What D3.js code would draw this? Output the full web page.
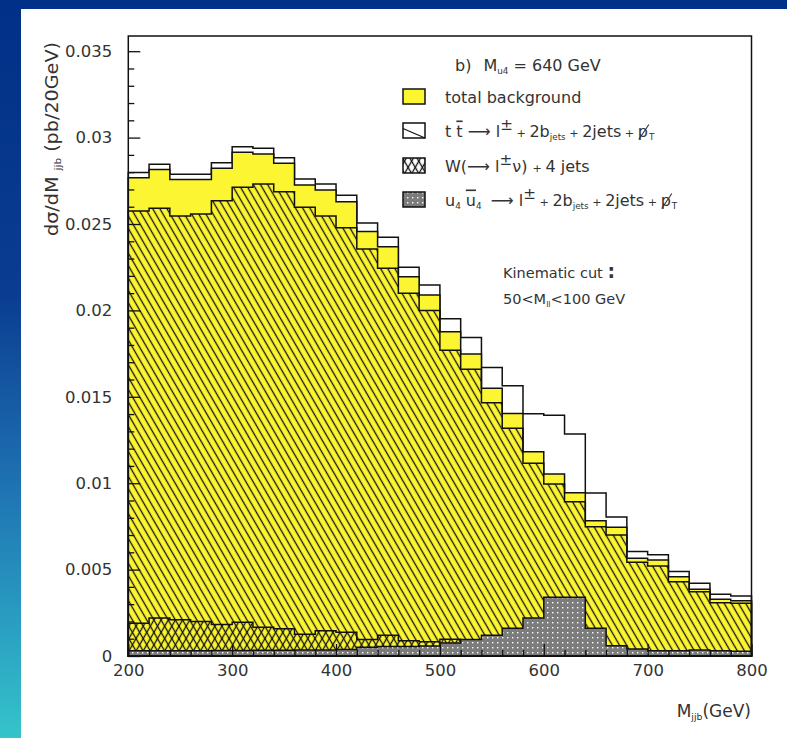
<!DOCTYPE html>
<html>
<head>
<meta charset="utf-8">
<script src="https://cdn.jsdelivr.net/npm/d3@7"></script>
<style>
html, body { margin: 0; padding: 0; background: #fff; }
svg { display: block; }
text { font-family: "DejaVu Sans", sans-serif; fill: #333; }
</style>
</head>
<body>
<div id="chart"></div>
<script>
// bins of 20 GeV, lower edges
const binLow = [200, 220, 240, 260, 280, 300, 320, 340, 360, 380,
                400, 420, 440, 460, 480, 500, 520, 540, 560, 580,
                600, 620, 640, 660, 680, 700, 720, 740, 760, 780];
const binWidth = 20;

// total background (yellow)
const totalBkg = [0.02768, 0.02816, 0.02758, 0.02758, 0.02822, 0.02915, 0.02905, 0.02851, 0.02726, 0.02697,
                  0.02629, 0.02456, 0.02369, 0.02195, 0.02089, 0.01877, 0.01748, 0.01549, 0.01404, 0.01182,
                  0.01053, 0.00945, 0.00783, 0.00745, 0.00565, 0.00556, 0.00459, 0.00386, 0.00328, 0.00320];
// t tbar (hatched)
const ttbar = [0.02575, 0.02591, 0.02546, 0.02558, 0.02635, 0.02712, 0.02731, 0.02687, 0.02597, 0.02546,
               0.02479, 0.02355, 0.02244, 0.02099, 0.02000, 0.01769, 0.01659, 0.01466, 0.01318, 0.01115,
               0.00995, 0.00893, 0.00748, 0.00700, 0.00542, 0.00521, 0.00430, 0.00372, 0.00308, 0.00305];
// W + 4 jets (cross hatched)
const wjets = [0.00190, 0.00220, 0.00210, 0.00200, 0.00183, 0.00196, 0.00167, 0.00157, 0.00126, 0.00146,
               0.00138, 0.00095, 0.00120, 0.00088, 0.00082, 0.00097, 0.00082, 0.00076, 0.00078, 0.00060,
               0.00050, 0.00046, 0.00032, 0.00040, 0.00022, 0.00030, 0.00027, 0.00014, 0.00017, 0.00014];
// u4 u4bar signal, M = 640 GeV (grey)
const signal = [0.00030, 0.00030, 0.00030, 0.00030, 0.00032, 0.00032, 0.00033, 0.00033, 0.00035, 0.00035,
                0.00038, 0.00050, 0.00055, 0.00055, 0.00058, 0.00075, 0.00095, 0.00120, 0.00160, 0.00220,
                0.00340, 0.00340, 0.00160, 0.00060, 0.00040, 0.00030, 0.00030, 0.00035, 0.00030, 0.00027];

const xMajor = [200, 300, 400, 500, 600, 700, 800];
const xMinor = [220, 240, 260, 280, 320, 340, 360, 380, 420, 440, 460, 480,
                520, 540, 560, 580, 620, 640, 660, 680, 720, 740, 760, 780];
const yMajor = [0, 0.005, 0.01, 0.015, 0.02, 0.025, 0.03, 0.035];
const yLabels = ['0', '0.005', '0.01', '0.015', '0.02', '0.025', '0.03', '0.035'];
const yMinor = [0.001, 0.002, 0.003, 0.004, 0.006, 0.007, 0.008, 0.009, 0.011, 0.012, 0.013, 0.014,
                0.016, 0.017, 0.018, 0.019, 0.021, 0.022, 0.023, 0.024, 0.026, 0.027, 0.028, 0.029,
                0.031, 0.032, 0.033, 0.034];

const W = 787, H = 738;
const plot = { left: 128.3, right: 751.5, top: 36, bottom: 656 };

const svg = d3.select('#chart').append('svg')
    .attr('width', W)
    .attr('height', H);

const defs = svg.append('defs');

// slide background
const grad = defs.append('linearGradient')
    .attr('id', 'sideGrad')
    .attr('x1', 0).attr('y1', 0).attr('x2', 0).attr('y2', 1);
[['0', '#003087'], ['0.4', '#0a3d91'], ['0.62', '#1c6aae'], ['0.82', '#2898c0'], ['1', '#35c4ca']]
    .forEach(s => grad.append('stop').attr('offset', s[0]).attr('stop-color', s[1]));

svg.append('rect').attr('width', W).attr('height', H).attr('fill', '#fff');
svg.append('rect').attr('width', W).attr('height', 9).attr('fill', '#003087');
svg.append('rect').attr('width', 21).attr('height', H).attr('fill', 'url(#sideGrad)');

// fill patterns
function hatch(id, angle, gap) {
    const p = defs.append('pattern')
        .attr('id', id)
        .attr('patternUnits', 'userSpaceOnUse')
        .attr('width', gap).attr('height', gap)
        .attr('patternTransform', 'rotate(' + angle + ')');
    p.append('line')
        .attr('x1', gap / 2).attr('y1', 0)
        .attr('x2', gap / 2).attr('y2', gap)
        .attr('stroke', '#111')
        .attr('stroke-width', 1.3);
}
hatch('hatchTT', -30, 6.2);
hatch('hatchW', 30, 6.2);

const dots = defs.append('pattern')
    .attr('id', 'dotsSig')
    .attr('patternUnits', 'userSpaceOnUse')
    .attr('width', 5).attr('height', 5);
dots.append('rect').attr('width', 5).attr('height', 5).attr('fill', '#7c7c7c');
dots.append('rect').attr('x', 2).attr('y', 2).attr('width', 1.4).attr('height', 1.4).attr('fill', '#fff');

// scales
const x = d3.scaleLinear().domain([200, 800]).range([plot.left, plot.right]);
const y = d3.scaleLinear().domain([0, 0.03588]).range([plot.bottom, plot.top]);

function steps(vals) {
    const pts = binLow.map((b, i) => ({ x: b, v: vals[i] }));
    pts.push({ x: binLow[binLow.length - 1] + binWidth, v: vals[vals.length - 1] });
    return pts;
}

const area = d3.area()
    .curve(d3.curveStepAfter)
    .x(d => x(d.x))
    .y0(y(0))
    .y1(d => y(d.v));

const withSignal = totalBkg.map((v, i) => v + signal[i]);

const hists = svg.append('g').attr('class', 'hists');

function drawHist(vals, fill) {
    hists.append('path')
        .datum(steps(vals))
        .attr('d', area)
        .attr('fill', fill)
        .attr('stroke', '#111')
        .attr('stroke-width', 1.5)
        .attr('stroke-linejoin', 'miter');
}

drawHist(withSignal, '#fff');
drawHist(totalBkg, '#fcf532');
drawHist(ttbar, 'url(#hatchTT)');
drawHist(wjets, 'url(#hatchW)');
drawHist(signal, 'url(#dotsSig)');

// axes
const axes = svg.append('g').attr('class', 'axes');

axes.append('g')
    .attr('transform', 'translate(' + plot.left + ',0)')
    .call(d3.axisLeft(y).tickValues(yMinor).tickSizeInner(-6).tickSizeOuter(0).tickFormat(''))
    .call(g => g.select('.domain').remove());

axes.append('g')
    .attr('transform', 'translate(' + plot.left + ',0)')
    .call(d3.axisLeft(y).tickValues(yMajor).tickSizeInner(-12).tickSizeOuter(0)
        .tickPadding(16).tickFormat((d, i) => yLabels[i]))
    .call(g => g.select('.domain').remove())
    .call(g => g.selectAll('text')
        .attr('font-family', '"DejaVu Sans", sans-serif')
        .attr('font-size', 16.5)
        .attr('fill', '#333'));

axes.append('g')
    .attr('transform', 'translate(0,' + plot.bottom + ')')
    .call(d3.axisBottom(x).tickValues(xMinor).tickSizeInner(-6).tickSizeOuter(0).tickFormat(''))
    .call(g => g.select('.domain').remove());

axes.append('g')
    .attr('transform', 'translate(0,' + plot.bottom + ')')
    .call(d3.axisBottom(x).tickValues(xMajor).tickSizeInner(-12).tickSizeOuter(0)
        .tickPadding(8).tickFormat(d3.format('d')))
    .call(g => g.select('.domain').remove())
    .call(g => g.selectAll('text')
        .attr('font-family', '"DejaVu Sans", sans-serif')
        .attr('font-size', 16.5)
        .attr('fill', '#333'));

axes.selectAll('.tick line').attr('stroke', '#111').attr('stroke-width', 1.3);

svg.append('rect')
    .attr('x', plot.left).attr('y', plot.top)
    .attr('width', plot.right - plot.left)
    .attr('height', plot.bottom - plot.top)
    .attr('fill', 'none')
    .attr('stroke', '#111')
    .attr('stroke-width', 1.5);

// text helpers
function addParts(t, parts, size) {
    parts.forEach(p => {
        const s = t.append('tspan').text(p.t);
        if (p.sub) s.attr('font-size', size * 0.55).attr('baseline-shift', -3);
        if (p.sup) s.attr('font-size', size * 0.95).attr('baseline-shift', size * 0.45);
        if (p.small) s.attr('font-size', size * 0.7);
        if (p.big) s.attr('font-size', size * 1.3).attr('font-weight', 'bold');
        if (p.dx) s.attr('dx', p.dx);
        if (p.over) s.attr('text-decoration', 'overline');
    });
}

// slash through the last "p" of a line (missing transverse momentum)
function slashLastP(t, parent) {
    const node = t.node();
    const idx = node.textContent.lastIndexOf('p');
    const r = node.getExtentOfChar(idx);
    parent.append('line')
        .attr('x1', r.x + 1).attr('y1', r.y + r.height - 1)
        .attr('x2', r.x + r.width + 1).attr('y2', r.y + 3)
        .attr('stroke', '#333')
        .attr('stroke-width', 1.1);
}

// axis titles
const yTitle = svg.append('text')
    .attr('transform', 'translate(58,236) rotate(-90)')
    .attr('font-size', 17)
    .attr('textLength', 194)
    .attr('lengthAdjust', 'spacingAndGlyphs');
addParts(yTitle, [{ t: 'd\u03c3/dM ' }, { t: 'jjb', sub: true }, { t: ' (pb/20GeV)' }], 17);

const xTitle = svg.append('text')
    .attr('x', 751).attr('y', 717)
    .attr('text-anchor', 'end')
    .attr('font-size', 17);
addParts(xTitle, [{ t: 'M' }, { t: 'jjb', sub: true }, { t: '(GeV)' }], 17);

// legend
const fs = 16;
const header = svg.append('text').attr('x', 455).attr('y', 71).attr('font-size', fs);
addParts(header, [{ t: 'b)' }, { t: 'M', dx: 12 }, { t: 'u4', sub: true }, { t: ' = 640 GeV' }], fs);

const rows = [96.5, 130.5, 165.5, 199.5];
const boxX = 403, boxW = 22, boxH = 15;
const leg = svg.append('g').attr('class', 'legend');

leg.append('rect').attr('x', boxX).attr('y', rows[0] - boxH / 2).attr('width', boxW).attr('height', boxH)
    .attr('fill', '#fcf532').attr('stroke', '#111').attr('stroke-width', 1.5);

leg.append('rect').attr('x', boxX).attr('y', rows[1] - boxH / 2).attr('width', boxW).attr('height', boxH)
    .attr('fill', '#fff').attr('stroke', '#111').attr('stroke-width', 1.5);
leg.append('line')
    .attr('x1', boxX).attr('y1', rows[1] - 2)
    .attr('x2', boxX + boxW).attr('y2', rows[1] + boxH / 2)
    .attr('stroke', '#111').attr('stroke-width', 1.2);

leg.append('rect').attr('x', boxX).attr('y', rows[2] - boxH / 2).attr('width', boxW).attr('height', boxH)
    .attr('fill', '#fff');
['url(#hatchTT)', 'url(#hatchW)'].forEach(f =>
    leg.append('rect').attr('x', boxX).attr('y', rows[2] - boxH / 2).attr('width', boxW).attr('height', boxH)
        .attr('fill', f));
leg.append('rect').attr('x', boxX).attr('y', rows[2] - boxH / 2).attr('width', boxW).attr('height', boxH)
    .attr('fill', 'none').attr('stroke', '#111').attr('stroke-width', 1.5);

leg.append('rect').attr('x', boxX).attr('y', rows[3] - boxH / 2).attr('width', boxW).attr('height', boxH)
    .attr('fill', 'url(#dotsSig)').attr('stroke', '#111').attr('stroke-width', 1.5);

const tx = 445;
const arrow = '\u27f6';
const l1 = leg.append('text').attr('x', tx).attr('y', rows[0] + 6).attr('font-size', fs);
addParts(l1, [{ t: 'total background' }], fs);

const l2 = leg.append('text').attr('x', tx).attr('y', rows[1] + 6).attr('font-size', fs);
addParts(l2, [{ t: 't ' }, { t: 't', over: true }, { t: ' ' + arrow + ' l' }, { t: '\u00b1', sup: true },
    { t: ' + ', small: true }, { t: '2b' }, { t: 'jets', sub: true }, { t: ' + ', small: true },
    { t: '2jets' }, { t: ' + ', small: true }, { t: 'p' }, { t: 'T', sub: true, dx: 1 }], fs);
slashLastP(l2, leg);

const l3 = leg.append('text').attr('x', tx).attr('y', rows[2] + 6).attr('font-size', fs);
addParts(l3, [{ t: 'W(' + arrow + ' l' }, { t: '\u00b1', sup: true }, { t: '\u03bd) ' },
    { t: '+ ', small: true }, { t: '4 jets' }], fs);

const l4 = leg.append('text').attr('x', tx).attr('y', rows[3] + 6).attr('font-size', fs);
addParts(l4, [{ t: 'u' }, { t: '4', sub: true }, { t: ' ' }, { t: 'u', over: true }, { t: '4', sub: true },
    { t: ' ' + arrow + ' l', dx: 4 }, { t: '\u00b1', sup: true },
    { t: ' + ', small: true }, { t: '2b' }, { t: 'jets', sub: true }, { t: ' + ', small: true },
    { t: '2jets' }, { t: ' + ', small: true }, { t: 'p' }, { t: 'T', sub: true, dx: 1 }], fs);
slashLastP(l4, leg);

// cut annotation
const k1 = svg.append('text').attr('x', 503).attr('y', 278).attr('font-size', 14.5);
addParts(k1, [{ t: 'Kinematic cut ' }, { t: ':', big: true }], 14.5);
const k2 = svg.append('text').attr('x', 503).attr('y', 304).attr('font-size', 14.5);
addParts(k2, [{ t: '50<M' }, { t: 'll', sub: true }, { t: '<100 GeV' }], 14.5);
</script>
</body>
</html>
